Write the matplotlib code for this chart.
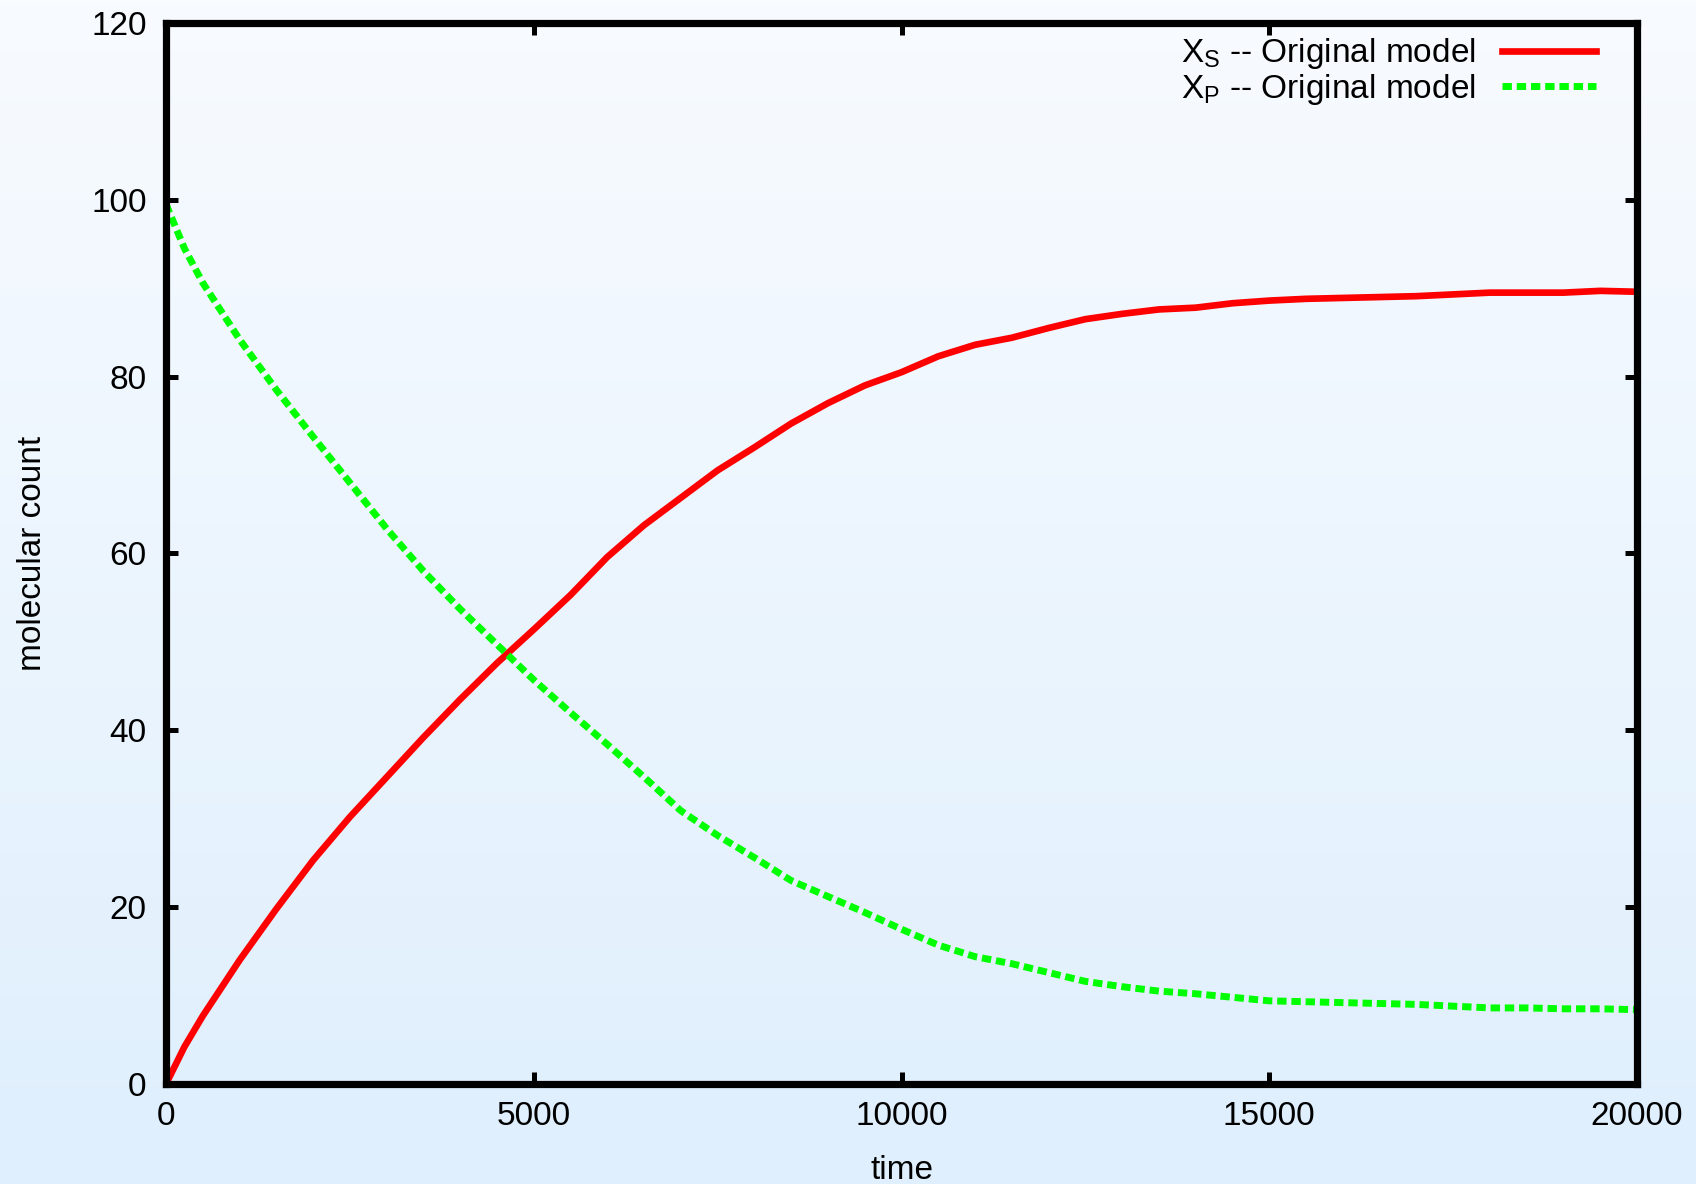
import numpy as np
import matplotlib
matplotlib.use('Agg')
import matplotlib.pyplot as plt

plt.rcParams['font.family'] = ['Liberation Sans', 'DejaVu Sans']
plt.rcParams['mathtext.fontset'] = 'custom'
plt.rcParams['mathtext.rm'] = 'Liberation Sans'
plt.rcParams['mathtext.it'] = 'Liberation Sans'

# time samples
time = [0, 250, 500, 1000, 1500, 2000, 2500, 3000, 3500, 4000, 4500,
        5000, 5500, 6000, 6500, 7000, 7500, 8000, 8500, 9000, 9500,
        10000, 10500, 11000, 11500, 12000, 12500, 13000, 13500, 14000,
        14500, 15000, 15500, 16000, 16500, 17000, 17500, 18000, 18500,
        19000, 19500, 20000]

# X_S (red, solid)
xs_orig = [0.0, 4.2, 7.7, 14.0, 19.8, 25.3, 30.2, 34.7, 39.2, 43.5, 47.6,
           51.4, 55.3, 59.6, 63.2, 66.3, 69.4, 72.0, 74.7, 77.0, 79.0,
           80.5, 82.3, 83.6, 84.4, 85.5, 86.5, 87.1, 87.6, 87.8,
           88.3, 88.6, 88.8, 88.9, 89.0, 89.1, 89.3, 89.5, 89.5,
           89.5, 89.7, 89.6]

# X_P (green, dashed)
xp_orig = [99.5, 94.5, 90.6, 84.2, 78.5, 73.2, 68.0, 62.8, 58.0, 53.7, 49.7,
           45.7, 42.0, 38.4, 34.7, 30.9, 28.1, 25.6, 23.0, 21.2, 19.4,
           17.5, 15.7, 14.4, 13.6, 12.6, 11.6, 11.0, 10.5, 10.2,
           9.8, 9.4, 9.3, 9.2, 9.1, 9.0, 8.8, 8.6, 8.6,
           8.5, 8.5, 8.4]

labels = ['X$_\\mathrm{S}$ -- Original model', 'X$_\\mathrm{P}$ -- Original model']

FS = 24

fig = plt.figure(figsize=(16.96, 11.84), dpi=100)

# background gradient
bg = fig.add_axes([0, 0, 1, 1], zorder=-10)
top = np.array([248, 251, 255]) / 255
bot = np.array([223, 239, 253]) / 255
grad = np.linspace(0, 1, 256)[:, None, None]
img = top * (1 - grad) + bot * grad
bg.imshow(img, aspect='auto', extent=[0, 1, 0, 1], origin='upper')
bg.axis('off')

ax = fig.add_axes([0.0979, 0.0845, 0.8673, 0.8961])
ax.patch.set_alpha(0)

ax.plot(time, xs_orig, color='#ff0000', lw=4.8, label=labels[0],
        solid_joinstyle='round')
ax.plot(time, xp_orig, color='#00ff00', lw=5.0, label=labels[1],
        dashes=(1.35, 0.7), dash_capstyle='butt')

ax.set_xlim(0, 20000)
ax.set_ylim(0, 120)
ax.set_xticks([0, 5000, 10000, 15000, 20000])
ax.set_yticks([0, 20, 40, 60, 80, 100, 120])

for s in ax.spines.values():
    s.set_linewidth(5.2)
ax.tick_params(direction='in', length=8.6, width=3.6, labelsize=FS,
               top=True, right=True, pad=12)
ax.tick_params(axis='y', pad=14)

ax.set_xlabel('time', fontsize=FS, labelpad=17)
ax.set_ylabel('molecular count', fontsize=FS, labelpad=31)

ax.legend(loc='upper right', frameon=False, markerfirst=False, fontsize=FS,
          handlelength=2.8, handletextpad=0.8, labelspacing=0.02,
          borderaxespad=0.0, bbox_to_anchor=(0.981, 1.0))

fig.savefig('out.png', dpi=100)
